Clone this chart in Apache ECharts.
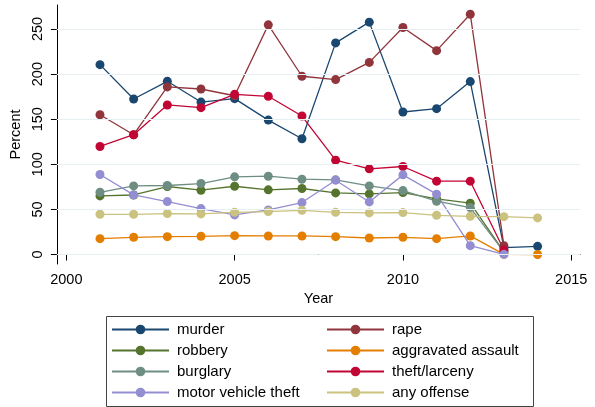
<!DOCTYPE html>
<html>
<head>
<meta charset="utf-8">
<script src="https://cdn.jsdelivr.net/npm/echarts@6/dist/echarts.min.js"></script>
<style>
html,body{margin:0;padding:0;background:#fff;}
#chart{width:595px;height:407px;}
</style>
</head>
<body>
<div id="chart"></div>
<script>
const years = [2001,2002,2003,2004,2005,2006,2007,2008,2009,2010,2011,2012,2013,2014];
const murder = [210.5,172.4,192,169,172.8,149,128.3,234.6,257.6,158,161.7,191.7,7.6,9.1];
const rape = [155,132.8,185.8,183.5,176,254.6,197.6,193.9,213,251.7,226,266.4,9.8,null];
const robbery = [65,66,75.4,71.3,75.7,71.7,73.2,68.3,67.2,68.7,61.7,56.9,3,null];
const aggravatedAssault = [17.6,19.1,19.8,20.2,20.9,20.6,20.6,19.8,18.3,19.1,17.6,20.6,0.2,0];
const burglary = [69,76.1,76.5,78.7,86.1,86.8,83.5,82.8,76.1,70.9,59.1,52,3,null];
const theftLarceny = [119.8,132.8,165.8,162.8,177.6,175.4,153.5,104.6,95,97.6,81.3,81.3,5,null];
const motorVehicleTheft = [88.7,66.1,58.7,50.9,43.9,49.4,57.6,82.4,58.3,88.3,66.9,9.8,0.2,null];
const anyOffense = [44.6,44.6,45.4,45,46.8,47.6,49,46.8,46.1,46.5,43.5,42.4,42,40.6];

const xTicks = [2000,2005,2010,2015];
const yTicks = [0,50,100,150,200,250];

const seriesDefs = [
  {name:'murder', values:murder, color:'#1a476f'},
  {name:'rape', values:rape, color:'#90353b'},
  {name:'robbery', values:robbery, color:'#55752f'},
  {name:'aggravated assault', values:aggravatedAssault, color:'#e37e00'},
  {name:'burglary', values:burglary, color:'#6e8e84'},
  {name:'theft/larceny', values:theftLarceny, color:'#c10534'},
  {name:'motor vehicle theft', values:motorVehicleTheft, color:'#938dd2'},
  {name:'any offense', values:anyOffense, color:'#cac27e'}
];

const FONT = 'Liberation Sans, Arial, sans-serif';

const series = [{
  type:'line', name:'_grid', data:[[xTicks[0], yTicks[0]]], silent:true,
  symbol:'none', showSymbol:false, lineStyle:{opacity:0}, z:0,
  markLine:{silent:true, symbol:'none', label:{show:false}, animation:false,
    lineStyle:{color:'#e6eff1', width:1, type:'solid'},
    data: yTicks.map(v=>({yAxis:v}))}
}].concat(seriesDefs.map(s=>({
  type:'line', name:s.name,
  data: years.map((y,i)=>[y, s.values[i]]).filter(d=>d[1]!==null),
  symbol:'circle', symbolSize:9,
  itemStyle:{color:s.color},
  lineStyle:{color:s.color, width:1.3},
  emphasis:{disabled:true},
  animation:false
})));

const legendCommon = {
  orient:'vertical', itemWidth:57, itemHeight:12, itemGap:6, height:110,
  textStyle:{fontFamily:FONT, fontSize:15, color:'#000', padding:[0,0,0,3]},
  padding:0
};

const chart = echarts.init(document.getElementById('chart'), null, {renderer:'canvas'});
chart.setOption({
  animation:false,
  backgroundColor:'#fff',
  grid:{left:55, right:15, top:5, bottom:143},
  xAxis:{
    type:'value', min:1999.72, max:2015.26,
    name:'Year', nameLocation:'middle', nameGap:24,
    nameTextStyle:{fontFamily:FONT, fontSize:14.5, color:'#000'},
    axisLine:{lineStyle:{color:'#000', width:1}},
    axisTick:{show:true, length:6, customValues:xTicks, lineStyle:{color:'#000'}},
    axisLabel:{customValues:xTicks, formatter:v=>String(v), fontFamily:FONT, fontSize:14.5, color:'#000', margin:8},
    splitLine:{show:false}
  },
  yAxis:{
    type:'value', min:-10.5, max:276.6,
    name:'Percent', nameLocation:'middle', nameGap:24,
    nameTextStyle:{fontFamily:FONT, fontSize:14.5, color:'#000'},
    axisLine:{show:true, lineStyle:{color:'#000', width:1}},
    axisTick:{show:true, length:6, customValues:yTicks, lineStyle:{color:'#000'}},
    axisLabel:{customValues:yTicks, rotate:90, fontFamily:FONT, fontSize:14.5, color:'#000', margin:11},
    splitLine:{show:false}
  },
  legend:[
    Object.assign({left:111, top:322, data:['murder','robbery','burglary','motor vehicle theft']}, legendCommon),
    Object.assign({left:326, top:322, data:['rape','aggravated assault','theft/larceny','any offense']}, legendCommon)
  ],
  graphic:[{type:'rect', left:104, top:314, shape:{width:427, height:90},
    style:{fill:'none', stroke:'#444', lineWidth:1}, silent:true}],
  series: series
});
</script>
</body>
</html>
